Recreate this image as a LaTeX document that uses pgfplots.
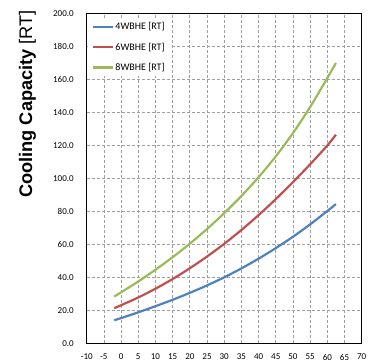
\documentclass[border=0pt]{standalone}
\usepackage{pgfplots}
\pgfplotsset{compat=1.18}
\usepackage{fontspec}
\setmainfont{Carlito}
\newfontfamily\arial{Liberation Sans}
\definecolor{cblue}{RGB}{79,129,189}
\definecolor{cred}{RGB}{192,80,77}
\definecolor{cgreen}{RGB}{155,187,89}
\begin{document}
\begin{tikzpicture}
\path[use as bounding box] (-86.7pt,-19.5pt) rectangle (298.3pt,343.5pt);
\begin{axis}[
  at={(0pt,0pt)}, anchor=south west,
  scale only axis, width=275pt, height=330pt,
  xmin=-10, xmax=70, ymin=0, ymax=200,
  xtick={-10,-5,...,70},
  xticklabels={-10,-5,0,5,10,15,20,25,30,35,40,45,50,55,60,65,70},
  ytick={0,20,...,200},
  yticklabel={\pgfmathprintnumber[fixed,fixed zerofill,precision=1]{\tick}},
  /pgf/number format/assume math mode=true,
  major tick length=0pt,
  tick label style={font=\fontsize{9}{10}\selectfont},
  yticklabel style={anchor=east, xshift=-9.5pt},
  xticklabel style={anchor=north, yshift=-7pt},
  grid=major,
  major grid style={gray!75, line width=0.7pt, dash pattern=on 3pt off 2pt},
  axis line style={black, line width=0.8pt},
  ylabel={\arial\fontsize{18.2}{20}\selectfont\bfseries Cooling Capacity \mdseries[RT]},
  ylabel style={at={(axis description cs:-0.215,0.726)}, anchor=center},
  legend style={at={(axis description cs:0.005,0.985)}, anchor=north west,
    draw=none, fill=white, font=\fontsize{10}{11}\selectfont,
    row sep=9.5pt, inner xsep=4pt, inner ysep=3pt,
    nodes={inner sep=1pt}},
  legend cell align=left,
  legend image code/.code={\draw[#1] (0pt,0pt) -- (20pt,0pt);},
]
\addplot[cblue, line width=2.2pt, smooth] coordinates {
(-2,14.1) (0,15.4) (5,18.9) (10,22.6) (15,26.5) (20,30.7) (25,35.2) (30,40.1)
(35,45.5) (40,51.4) (45,57.8) (50,64.7) (55,72.2) (60,80.3) (62.5,84.5)};
\addlegendentry{4WBHE [RT]}
\addplot[cred, line width=2.2pt, smooth] coordinates {
(-2,21.4) (0,23.2) (5,27.9) (10,33.2) (15,39.1) (20,45.6) (25,52.7) (30,60.4)
(35,68.8) (40,77.8) (45,87.5) (50,97.8) (55,108.6) (60,120.0) (62.5,126.6)};
\addlegendentry{6WBHE [RT]}
\addplot[cgreen, line width=2.2pt, smooth] coordinates {
(-2,28.5) (0,31.0) (5,37.6) (10,44.7) (15,52.3) (20,60.5) (25,69.4) (30,79.0)
(35,89.4) (40,100.8) (45,113.4) (50,127.5) (55,143.3) (60,160.9) (62.5,170.0)};
\addlegendentry{8WBHE [RT]}
\end{axis}
\end{tikzpicture}
\end{document}
